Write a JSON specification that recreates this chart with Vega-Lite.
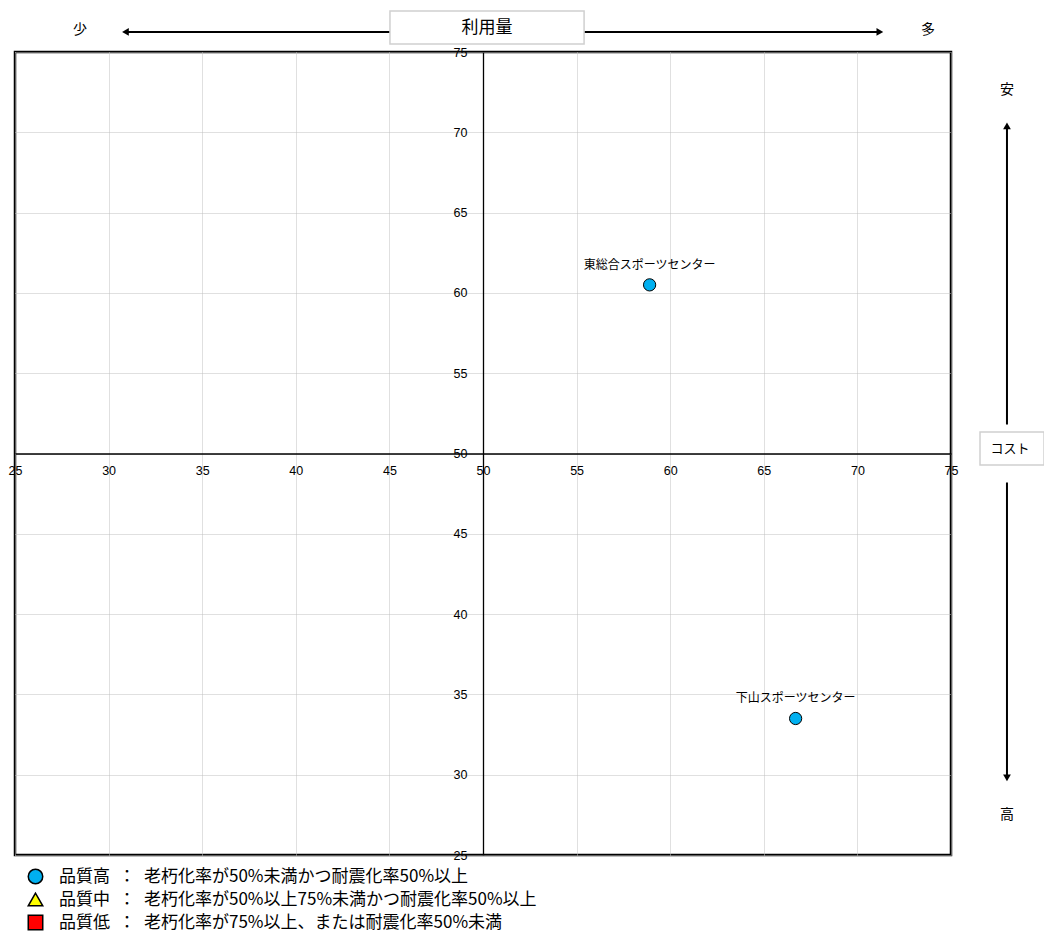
{
  "$schema": "https://vega.github.io/schema/vega-lite/v6.json",
  "width": 936,
  "height": 803,
  "autosize": "none",
  "padding": {"left": 15, "top": 52, "right": 93, "bottom": 79},
  "background": "white",
  "config": {
    "view": {"stroke": "black", "strokeWidth": 2.5},
    "font": "Noto Sans CJK JP"
  },
  "datasets": {
    "points": [
      {"name": "東総合スポーツセンター", "usage": 58.9, "cost": 60.5, "quality": "品質高\u2002：\u2002老朽化率が50%未満かつ耐震化率50%以上"},
      {"name": "下山スポーツセンター", "usage": 66.7, "cost": 33.5, "quality": "品質高\u2002：\u2002老朽化率が50%未満かつ耐震化率50%以上"}
    ],
    "words": [
      {"t": "少", "usage": 28.47, "cost": 76.37},
      {"t": "多", "usage": 73.77, "cost": 76.37},
      {"t": "安", "usage": 77.99, "cost": 72.63},
      {"t": "高", "usage": 77.99, "cost": 27.49}
    ],
    "arrows": [
      {"usage": 30.9, "usage2": 71.2, "cost": 76.25, "cost2": 76.25},
      {"usage": 77.99, "usage2": 77.99, "cost": 70.4, "cost2": 51.8},
      {"usage": 77.99, "usage2": 77.99, "cost": 48.2, "cost2": 29.8}
    ],
    "heads": [
      {"d": "left", "usage": 30.9, "cost": 76.25},
      {"d": "right", "usage": 71.2, "cost": 76.25},
      {"d": "up", "usage": 77.99, "cost": 70.4},
      {"d": "down", "usage": 77.99, "cost": 29.8}
    ],
    "boxes": [
      {"t": "利用量", "usage": 45.03, "usage2": 55.4, "cost": 77.56, "cost2": 75.5, "tu": 50.21, "tc": 76.5},
      {"t": "コスト", "usage": 76.55, "usage2": 79.97, "cost": 51.34, "cost2": 49.28, "tu": 78.15, "tc": 50.28}
    ]
  },
  "encoding": {
    "x": {
      "field": "usage", "type": "quantitative",
      "scale": {"domain": [25, 75], "nice": false, "zero": false},
      "axis": {
        "orient": "bottom", "offset": -401.5, "title": null,
        "values": [25, 30, 35, 40, 45, 50, 55, 60, 65, 70, 75],
        "grid": true, "gridColor": "#c0c0c0", "gridDash": [1, 1], "gridWidth": 1,
        "ticks": false, "domainColor": "black", "domainWidth": 1.3,
        "labelFont": "Liberation Sans", "labelFontSize": 12.5, "labelColor": "black",
        "labelPadding": 11, "labelFlush": false, "labelOverlap": false
      }
    },
    "y": {
      "field": "cost", "type": "quantitative",
      "scale": {"domain": [25, 75], "nice": false, "zero": false},
      "axis": {
        "orient": "left", "offset": -468, "title": null,
        "values": [25, 30, 35, 40, 45, 50, 55, 60, 65, 70, 75],
        "grid": true, "gridColor": "#c0c0c0", "gridDash": [1, 1], "gridWidth": 1,
        "ticks": false, "domainColor": "black", "domainWidth": 1.3,
        "labelFont": "Liberation Sans", "labelFontSize": 12.5, "labelColor": "black",
        "labelPadding": 16, "labelFlush": false, "labelOverlap": false
      }
    }
  },
  "layer": [
    {
      "data": {"name": "points"},
      "mark": {"type": "point", "filled": true, "stroke": "black", "strokeWidth": 1, "size": 150, "opacity": 1, "clip": false},
      "encoding": {
        "color": {
          "field": "quality", "type": "nominal",
          "scale": {
            "domain": ["品質高\u2002：\u2002老朽化率が50%未満かつ耐震化率50%以上", "品質中\u2002：\u2002老朽化率が50%以上75%未満かつ耐震化率50%以上", "品質低\u2002：\u2002老朽化率が75%以上、または耐震化率50%未満"],
            "range": ["#00B0F0", "#FFFF00", "#FF0000"]
          },
          "legend": {
            "orient": "none", "legendX": 12, "legendY": 816, "title": null, "padding": 0,
            "labelFont": "Noto Sans CJK JP", "labelFontSize": 17, "labelColor": "black", "labelLimit": 900,
            "symbolSize": 210, "symbolOpacity": 1,
            "labelOffset": 15, "rowPadding": 3,
            "encode": {"symbols": {"update": {"stroke": {"signal": "datum.index == 2 ? '#FF0000' : 'black'"}, "strokeWidth": {"value": 1}}}}
          }
        },
        "shape": {
          "field": "quality", "type": "nominal",
          "scale": {
            "domain": ["品質高\u2002：\u2002老朽化率が50%未満かつ耐震化率50%以上", "品質中\u2002：\u2002老朽化率が50%以上75%未満かつ耐震化率50%以上", "品質低\u2002：\u2002老朽化率が75%以上、または耐震化率50%未満"],
            "range": ["circle", "triangle-up", "square"]
          },
          "legend": {
            "orient": "none", "legendX": 12, "legendY": 816, "title": null, "padding": 0,
            "labelFont": "Noto Sans CJK JP", "labelFontSize": 17, "labelColor": "black", "labelLimit": 900,
            "symbolSize": 210, "symbolOpacity": 1,
            "labelOffset": 15, "rowPadding": 3,
            "encode": {"symbols": {"update": {"stroke": {"signal": "datum.index == 2 ? '#FF0000' : 'black'"}, "strokeWidth": {"value": 1}}}}
          }
        }
      }
    },
    {
      "data": {"name": "points"},
      "mark": {"type": "text", "dy": -20, "fontSize": 12, "font": "Noto Sans CJK JP", "color": "black", "clip": false},
      "encoding": {"text": {"field": "name"}}
    },
    {
      "data": {"name": "arrows"},
      "mark": {"type": "rule", "color": "black", "strokeWidth": 2, "clip": false},
      "encoding": {
        "x2": {"field": "usage2"},
        "y2": {"field": "cost2"}
      }
    },
    {
      "data": {"name": "heads"},
      "transform": [{"filter": "datum.d == 'left'"}],
      "mark": {"type": "point", "shape": "triangle-left", "filled": true, "color": "black", "opacity": 1, "size": 60, "clip": false}
    },
    {
      "data": {"name": "heads"},
      "transform": [{"filter": "datum.d == 'right'"}],
      "mark": {"type": "point", "shape": "triangle-right", "filled": true, "color": "black", "opacity": 1, "size": 60, "clip": false}
    },
    {
      "data": {"name": "heads"},
      "transform": [{"filter": "datum.d == 'up'"}],
      "mark": {"type": "point", "shape": "triangle-up", "filled": true, "color": "black", "opacity": 1, "size": 60, "clip": false}
    },
    {
      "data": {"name": "heads"},
      "transform": [{"filter": "datum.d == 'down'"}],
      "mark": {"type": "point", "shape": "triangle-down", "filled": true, "color": "black", "opacity": 1, "size": 60, "clip": false}
    },
    {
      "data": {"name": "boxes"},
      "mark": {"type": "rect", "fill": "white", "stroke": "#d0d0d0", "strokeWidth": 1.5, "clip": false},
      "encoding": {
        "x2": {"field": "usage2"},
        "y2": {"field": "cost2"}
      }
    },
    {
      "data": {"name": "boxes"},
      "transform": [{"filter": "datum.t == '利用量'"}],
      "mark": {"type": "text", "fontSize": 17, "font": "Noto Sans CJK JP", "color": "black", "clip": false},
      "encoding": {
        "x": {"field": "tu", "type": "quantitative"},
        "y": {"field": "tc", "type": "quantitative"},
        "text": {"field": "t"}
      }
    },
    {
      "data": {"name": "boxes"},
      "transform": [{"filter": "datum.t == 'コスト'"}],
      "mark": {"type": "text", "fontSize": 13, "font": "Noto Sans CJK JP", "color": "black", "clip": false},
      "encoding": {
        "x": {"field": "tu", "type": "quantitative"},
        "y": {"field": "tc", "type": "quantitative"},
        "text": {"field": "t"}
      }
    },
    {
      "data": {"name": "words"},
      "mark": {"type": "text", "fontSize": 14, "font": "Noto Sans CJK JP", "color": "black", "clip": false},
      "encoding": {"text": {"field": "t"}}
    }
  ]
}
